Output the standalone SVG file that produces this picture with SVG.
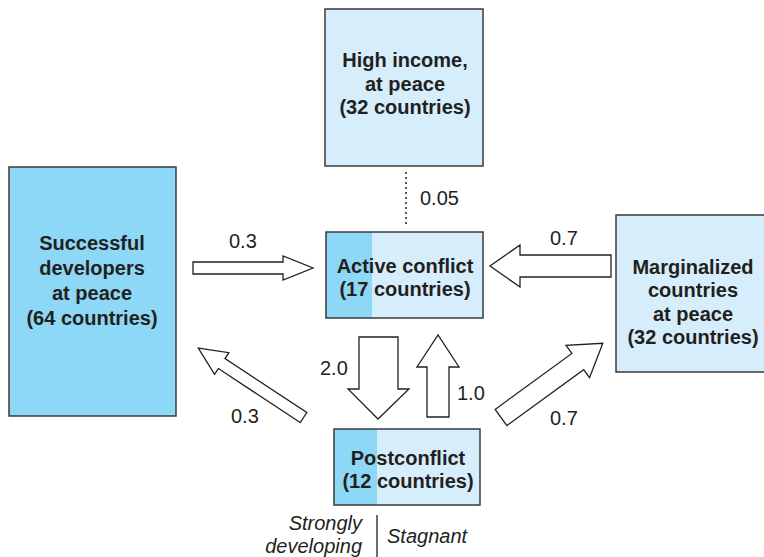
<svg xmlns="http://www.w3.org/2000/svg" width="764" height="557" viewBox="0 0 764 557">
<style>
.box{stroke:#3a3a3a;stroke-width:1.5}
.dark{fill:#8dd7f7}
.light{fill:#d6eefb}
.t{font-family:"Liberation Sans",Arial,sans-serif;font-weight:bold;font-size:20px;fill:#231f20;text-anchor:middle}
.n{font-family:"Liberation Sans",Arial,sans-serif;font-size:20px;fill:#231f20}
.i{font-family:"Liberation Sans",Arial,sans-serif;font-style:italic;font-size:20px;fill:#231f20}
.arr{fill:#fff;stroke:#231f20;stroke-width:1.3;stroke-linejoin:miter}
</style>
<rect width="764" height="557" fill="#fff"/>
<g id="high-income">
<rect class="box light" x="325" y="9" width="158" height="157"/>
<text class="t" x="405" y="67">High income,</text>
<text class="t" x="405" y="91">at peace</text>
<text class="t" x="405" y="114">(32 countries)</text>
</g>
<g id="successful">
<rect class="box dark" x="9" y="167" width="167" height="249"/>
<text class="t" x="92" y="250">Successful</text>
<text class="t" x="92" y="275">developers</text>
<text class="t" x="92" y="300">at peace</text>
<text class="t" x="92" y="325">(64 countries)</text>
</g>
<g id="active-conflict">
<rect class="light" x="326" y="232" width="157" height="86"/>
<rect class="dark" x="326" y="232" width="46" height="86"/>
<rect class="box" x="326" y="232" width="157" height="86" fill="none"/>
<text class="t" x="405" y="273">Active conflict</text>
<text class="t" x="405" y="296">(17 countries)</text>
</g>
<g id="marginalized">
<rect class="box light" x="616" y="215" width="150" height="157"/>
<text class="t" x="693" y="274">Marginalized</text>
<text class="t" x="693" y="297">countries</text>
<text class="t" x="693" y="321">at peace</text>
<text class="t" x="693" y="344">(32 countries)</text>
</g>
<g id="postconflict">
<rect class="light" x="334" y="429" width="146" height="76"/>
<rect class="dark" x="334" y="429" width="43" height="76"/>
<rect class="box" x="334" y="429" width="146" height="76" fill="none"/>
<text class="t" x="408" y="465">Postconflict</text>
<text class="t" x="408" y="488">(12 countries)</text>
</g>
<g id="legend">
<text class="i" x="362" y="530" text-anchor="end">Strongly</text>
<text class="i" x="362" y="553" text-anchor="end">developing</text>
<line x1="377" y1="515" x2="377" y2="557" stroke="#231f20" stroke-width="1.3"/>
<text class="i" x="387" y="543">Stagnant</text>
</g>
<g id="connectors">
<line x1="406" y1="172" x2="406" y2="224" stroke="#231f20" stroke-width="1.5" stroke-dasharray="2,3"/>
<text class="n" x="420" y="205">0.05</text>
<polygon class="arr" points="193,262 283,262 283,256 313,268 283,280 283,274 193,274"/>
<text class="n" x="229" y="248">0.3</text>
<polygon class="arr" points="611,255 520,255 520,245 490,266 520,287 520,277 611,277"/>
<text class="n" x="550" y="245">0.7</text>
<polygon class="arr" points="359,337 398,337 398,389 409,389 378,419 348,389 359,389"/>
<text class="n" x="320" y="375">2.0</text>
<polygon class="arr" points="427,417 449,417 449,367 459,367 438,335 417,367 427,367"/>
<text class="n" x="457" y="400">1.0</text>
<polygon class="arr" transform="translate(303.5,417.5) rotate(213.4)" points="0,-6 98,-6 98,-13 126,0 98,13 98,6 0,6"/>
<text class="n" x="231" y="423">0.3</text>
<polygon class="arr" transform="translate(501,417.5) rotate(-36.1)" points="0,-10 95,-10 95,-20 126,0 95,20 95,10 0,10"/>
<text class="n" x="550" y="425">0.7</text>
</g>
</svg>
